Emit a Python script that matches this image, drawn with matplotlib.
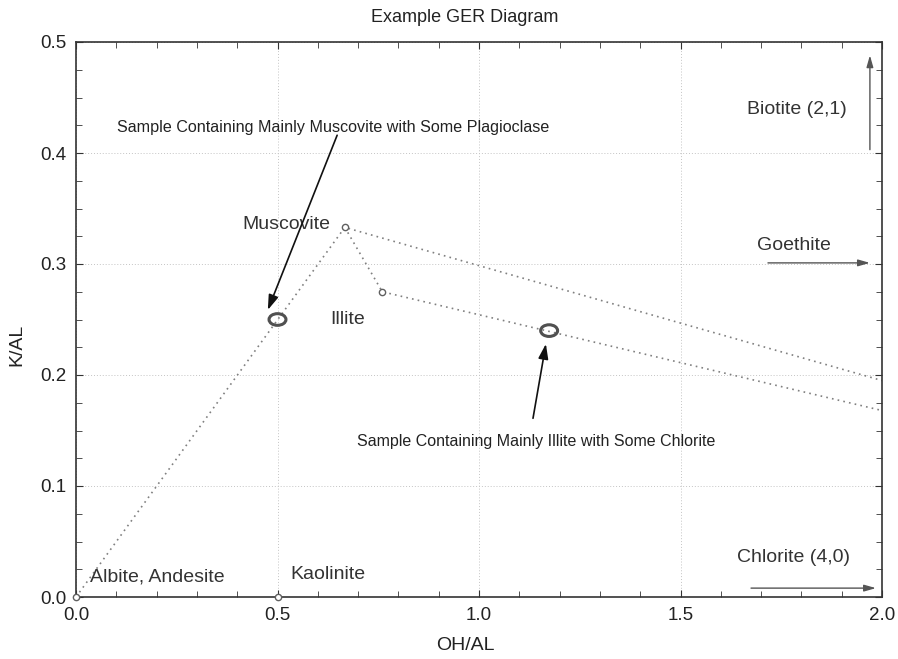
import matplotlib
matplotlib.use("Agg")
import matplotlib.pyplot as plt
from matplotlib.patches import Ellipse
from matplotlib.ticker import MultipleLocator

plt.rcParams['font.family'] = ['Liberation Sans', 'DejaVu Sans']

# Mineral vertices (OH/AL, K/AL)
line1_x = [0.0, 0.667, 2.0]
line1_y = [0.0, 0.333, 0.195]
line2_x = [0.667, 0.76, 2.0]
line2_y = [0.333, 0.275, 0.168]
vertex_x = [0.0, 0.5, 0.667, 0.76]
vertex_y = [0.0, 0.0, 0.333, 0.275]
samples_x = [0.5, 1.174]
samples_y = [0.25, 0.24]

labels = ["Muscovite", "Illite", "Albite, Andesite", "Kaolinite",
          "Biotite (2,1)", "Goethite", "Chlorite (4,0)"]
labels_x = [0.412, 0.63, 0.035, 0.533, 1.665, 1.69, 1.64]
labels_y = [0.336, 0.25, 0.018, 0.020, 0.439, 0.317, 0.036]

fig = plt.figure(figsize=(8.98, 6.59), dpi=100)
ax = fig.add_axes([76/898, 62/659, 806/898, 555/659])

gray = '#808080'
ax.plot(line1_x, line1_y, linestyle=(0, (1, 2.5)), color=gray, lw=1.2)
ax.plot(line2_x, line2_y, linestyle=(0, (1, 2.5)), color=gray, lw=1.2)
ax.plot(vertex_x, vertex_y, linestyle='none', marker='o', ms=4.5,
        mfc='white', mec='#606060', mew=1, clip_on=False, zorder=3)

for sx, sy in zip(samples_x, samples_y):
    ax.add_patch(Ellipse((sx, sy), 0.042, 0.0105, fill=False,
                         ec='#505050', lw=2.2, zorder=4))

for t, x, y in zip(labels, labels_x, labels_y):
    ax.text(x, y, t, fontsize=14, color='#333333', va='center', ha='left')

ax.text(0.102, 0.423, "Sample Containing Mainly Muscovite with Some Plagioclase",
        fontsize=11.6, color='#222222', va='center', ha='left')
ax.text(0.697, 0.1405, "Sample Containing Mainly Illite with Some Chlorite",
        fontsize=11.5, color='#222222', va='center', ha='left')

arrow_black = dict(arrowstyle='-|>,head_length=0.9,head_width=0.3', color='#111111', lw=1.2,
                   shrinkA=0, shrinkB=0)
ax.annotate('', xy=(0.476, 0.2586), xytext=(0.648, 0.416), arrowprops=arrow_black)
ax.annotate('', xy=(1.166, 0.228), xytext=(1.134, 0.161), arrowprops=arrow_black)

arrow_gray = dict(arrowstyle='-|>,head_length=0.7,head_width=0.2', color='#555555', lw=1.0,
                  shrinkA=0, shrinkB=0)
ax.annotate('', xy=(1.97, 0.488), xytext=(1.97, 0.403), arrowprops=arrow_gray)
ax.annotate('', xy=(1.97, 0.301), xytext=(1.717, 0.301), arrowprops=arrow_gray)
ax.annotate('', xy=(1.985, 0.008), xytext=(1.675, 0.008), arrowprops=arrow_gray)

ax.set_xlim(0, 2.0)
ax.set_ylim(0, 0.5)
ax.xaxis.set_major_locator(MultipleLocator(0.5))
ax.xaxis.set_minor_locator(MultipleLocator(0.1))
ax.yaxis.set_major_locator(MultipleLocator(0.1))
ax.yaxis.set_minor_locator(MultipleLocator(0.025))
ax.xaxis.set_major_formatter(matplotlib.ticker.FormatStrFormatter('%.1f'))
ax.yaxis.set_major_formatter(matplotlib.ticker.FormatStrFormatter('%.1f'))
ax.tick_params(which='both', direction='in', top=True, right=True,
               color='#333333', labelsize=13.5, labelcolor='#222222')
ax.tick_params(which='major', length=5, pad=7)
ax.tick_params(which='minor', length=4)
ax.grid(True, which='major', linestyle=(0, (1, 2)), color='#c4c4c4', lw=0.7)
for s in ax.spines.values():
    s.set_color('#333333')
    s.set_linewidth(1.2)

fig.text(465/898, 1 - 17/659, "Example GER Diagram", ha='center', va='center',
         fontsize=13, color='#222222')
fig.text(465/898, 1 - 646/659, "OH/AL", ha='center', va='center',
         fontsize=14, color='#222222')
fig.text(17/898, 1 - 345/659, "K/AL", ha='center', va='center', rotation=90,
         fontsize=14, color='#222222')

fig.savefig('out.png', dpi=100)
